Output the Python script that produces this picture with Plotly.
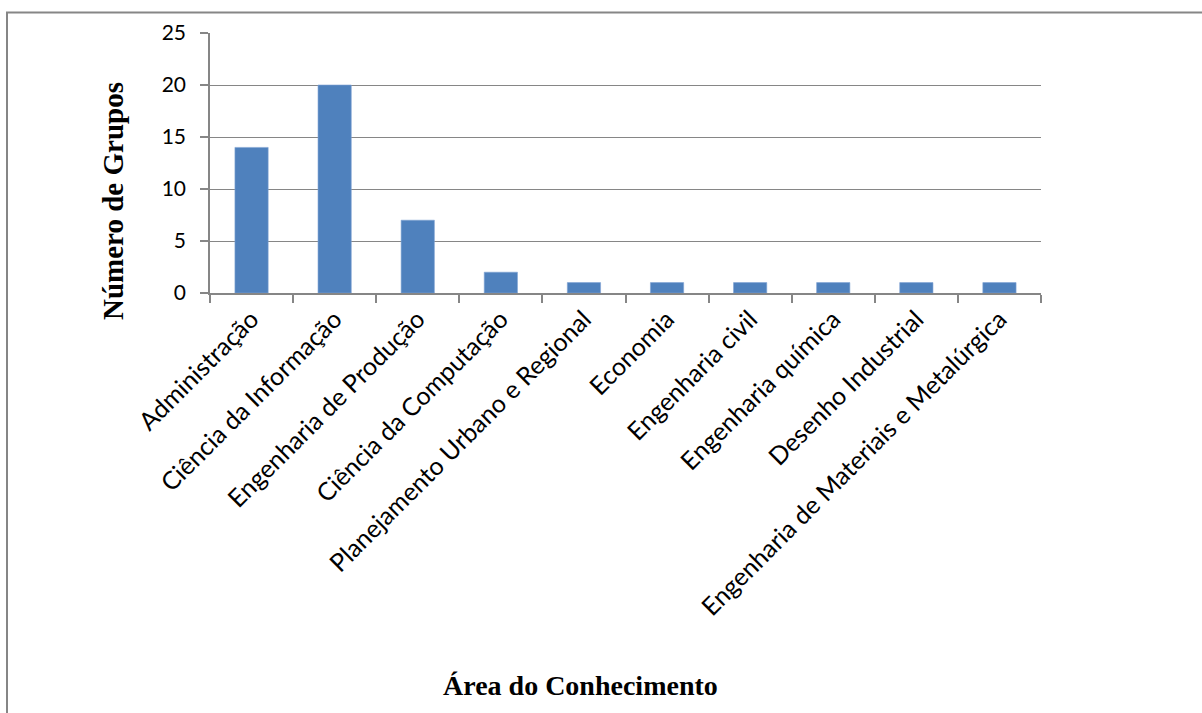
import plotly.graph_objects as go

categories = [
    "Administração",
    "Ciência da Informação",
    "Engenharia de Produção",
    "Ciência da Computação",
    "Planejamento Urbano e Regional",
    "Economia",
    "Engenharia civil",
    "Engenharia química",
    "Desenho Industrial",
    "Engenharia de Materiais e Metalúrgica",
]
values = [14, 20, 7, 2, 1, 1, 1, 1, 1, 1]
y_ticks = [0, 5, 10, 15, 20, 25]

W, H = 1202, 713
L, R, T, B = 210, 1041, 33, 293
pw, ph = R - L, B - T

def px(x):
    return (x - L) / pw

def py(y):
    return (B - y) / ph

fig = go.Figure(
    go.Bar(
        x=categories,
        y=values,
        marker=dict(color="#4F81BD", line=dict(color="#7FA3D3", width=0.6)),
        hoverinfo="x+y",
    )
)

gray = "#868686"
fig.update_layout(
    width=W,
    height=H,
    margin=dict(l=L, r=W - R, t=T, b=H - B),
    paper_bgcolor="white",
    plot_bgcolor="white",
    bargap=0.6,
    showlegend=False,
    font=dict(family="Lato, Carlito, sans-serif", size=20, color="black"),
    xaxis=dict(
        type="category",
        tickangle=-45,
        tickson="boundaries",
        ticks="outside",
        ticklen=8,
        tickcolor=gray,
        tickwidth=1.5,
        showline=True,
        linecolor=gray,
        linewidth=1.5,
        showgrid=False,
        tickfont=dict(family="Lato, Carlito, sans-serif", size=25),
    ),
    yaxis=dict(
        range=[0, 25],
        tickvals=y_ticks,
        ticks="outside",
        ticklen=8,
        tickcolor=gray,
        tickwidth=1.5,
        ticklabelstandoff=10,
        showline=True,
        linecolor=gray,
        linewidth=1.5,
        showgrid=True,
        gridcolor=gray,
        gridwidth=1.2,
        zeroline=False,
        tickfont=dict(family="Lato, Carlito, sans-serif", size=21),
    ),
    shapes=[
        dict(
            type="rect", xref="paper", yref="paper",
            x0=px(7), x1=px(1215), y0=py(725), y1=py(12.5),
            line=dict(color=gray, width=2), fillcolor="rgba(0,0,0,0)", layer="below",
        )
    ],
    annotations=[
        dict(
            text="<b>Número de Grupos</b>", xref="paper", yref="paper",
            x=px(113), y=py(201), textangle=-90, showarrow=False,
            font=dict(family="Liberation Serif, Times New Roman, serif", size=29, color="black"),
            xanchor="center", yanchor="middle",
        ),
        dict(
            text="<b>Área do Conhecimento</b>", xref="paper", yref="paper",
            x=px(580), y=py(685), showarrow=False,
            font=dict(family="Liberation Serif, Times New Roman, serif", size=28, color="black"),
            xanchor="center", yanchor="middle",
        ),
    ],
)

fig.write_html("out.html")
